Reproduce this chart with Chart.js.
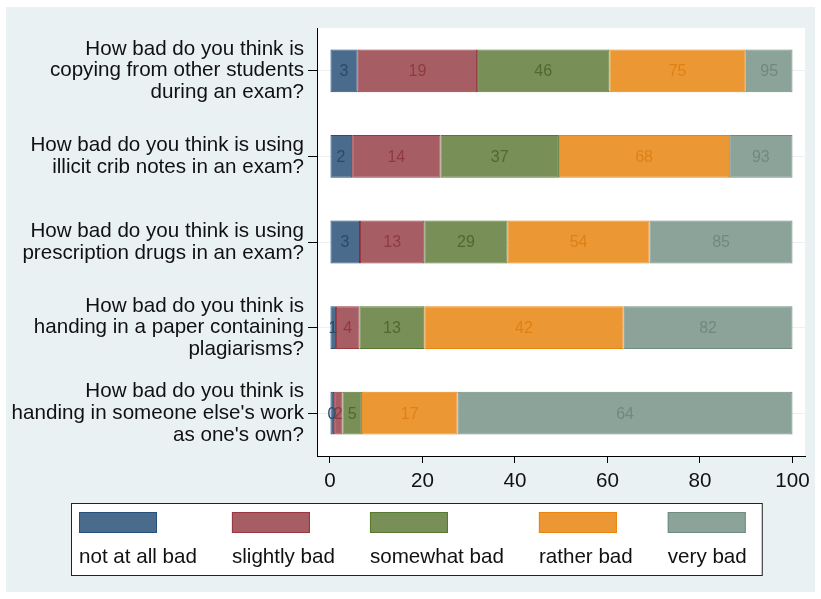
<!DOCTYPE html>
<html>
<head>
<meta charset="utf-8">
<script src="https://cdn.jsdelivr.net/npm/chart.js@4"></script>
<style>
  html, body { margin: 0; padding: 0; background: #fff; }
  #wrap { width: 821px; height: 599px; position: relative; }
</style>
</head>
<body>
<div id="wrap"><canvas id="chart"></canvas></div>
<script>
// Questions (y categories)
const questions = [
  ['How bad do you think is', 'copying from other students', 'during an exam?'],
  ['How bad do you think is using', 'illicit crib notes in an exam?'],
  ['How bad do you think is using', 'prescription drugs in an exam?'],
  ['How bad do you think is', 'handing in a paper containing', 'plagiarisms?'],
  ['How bad do you think is', 'handing in someone else\'s work', 'as one\'s own?']
];

// Share of answers (%) per level
const notAtAllBad = [6.0, 4.8, 6.5, 1.3, 0.9];
const slightlyBad = [25.8, 19.1, 13.9, 5.1, 1.8];
const somewhatBad = [28.6, 25.6, 18.0, 14.0, 4.2];
const ratherBad = [29.5, 36.8, 30.7, 43.1, 20.7];
const veryBad = [10.1, 13.7, 30.9, 36.5, 72.4];

const levelNames = ['not at all bad', 'slightly bad', 'somewhat bad', 'rather bad', 'very bad'];
const xTicks = [0, 20, 40, 60, 80, 100];

const fills = ['#4a6b8c', '#a65d63', '#788f58', '#eb9734', '#8ba398'];
const lines = ['#24507a', '#99363f', '#56792f', '#ea8510', '#6f8c81'];
const textCols = ['#2a4a6b', '#8f3a43', '#4f6a2c', '#de8016', '#6e8a80'];

const FONT = "'Liberation Sans', Arial, Helvetica, sans-serif";
const BG = '#eaf1f3';

// Backgrounds
const bgPlugin = {
  id: 'bg',
  beforeDraw(chart) {
    const { ctx, chartArea: a } = chart;
    ctx.save();
    ctx.fillStyle = '#ffffff';
    ctx.fillRect(0, 0, chart.width, chart.height);
    ctx.fillStyle = BG;
    ctx.fillRect(6, 7, 809, 585);
    ctx.fillStyle = '#ffffff';
    ctx.fillRect(a.left, a.top, a.right - a.left, a.bottom - a.top);
    ctx.restore();
  }
};

// Value labels inside bars: midpoint of cumulative position
const barLabels = {
  id: 'barLabels',
  afterDatasetsDraw(chart) {
    const { ctx } = chart;
    const xs = chart.scales.x;
    ctx.save();
    ctx.font = '16px ' + FONT;
    ctx.textAlign = 'center';
    ctx.textBaseline = 'middle';
    questions.forEach((q, i) => {
      let cum = 0;
      chart.data.datasets.forEach((ds, d) => {
        const v = ds.data[i];
        const mid = cum + v / 2;
        cum += v;
        const el = chart.getDatasetMeta(d).data[i];
        ctx.fillStyle = textCols[d];
        ctx.fillText(String(Math.round(mid)), xs.getPixelForValue(mid), el.y + 1);
      });
    });
    ctx.restore();
  }
};

// Stata style legend: swatches over labels, in a box
const legendBox = {
  id: 'legendBox',
  afterDraw(chart) {
    const { ctx } = chart;
    ctx.save();
    ctx.font = '20.6px ' + FONT;
    const sw = 78, gap = 35;
    let x = 79;
    const starts = [];
    chart.data.datasets.forEach(ds => {
      starts.push(x);
      x += Math.max(sw, ctx.measureText(ds.label).width) + gap;
    });
    const right = x - gap + 15;
    ctx.fillStyle = '#ffffff';
    ctx.fillRect(71, 503, right - 71, 72);
    ctx.strokeStyle = '#222';
    ctx.lineWidth = 1;
    ctx.strokeRect(71.5, 503.5, right - 71, 72);
    chart.data.datasets.forEach((ds, d) => {
      ctx.fillStyle = fills[d];
      ctx.fillRect(starts[d], 512, sw, 21);
      ctx.strokeStyle = lines[d];
      ctx.strokeRect(starts[d] + 0.5, 512.5, sw - 1, 20);
      ctx.fillStyle = '#111';
      ctx.textAlign = 'left';
      ctx.textBaseline = 'middle';
      ctx.fillText(ds.label, starts[d], 557);
    });
    ctx.restore();
  }
};

const series = [notAtAllBad, slightlyBad, somewhatBad, ratherBad, veryBad];

new Chart(document.getElementById('chart').getContext('2d'), {
  type: 'bar',
  data: {
    labels: questions,
    datasets: series.map((s, i) => ({
      label: levelNames[i],
      data: s,
      backgroundColor: fills[i],
      borderColor: lines[i],
      borderWidth: 1,
      borderSkipped: false,
      barPercentage: 0.5,
      categoryPercentage: 1.0
    }))
  },
  options: {
    indexAxis: 'y',
    responsive: true,
    maintainAspectRatio: false,
    animation: false,
    layout: { padding: { top: 28, right: 16, left: 0, bottom: 0 } },
    plugins: {
      legend: { display: false },
      tooltip: { enabled: false },
      title: { display: false }
    },
    scales: {
      x: {
        stacked: true,
        min: -2.8,
        max: 102.7,
        afterBuildTicks: axis => { axis.ticks = xTicks.map(v => ({ value: v })); },
        afterFit: axis => { axis.height = 143; axis.paddingLeft = 0; axis.paddingRight = 0; },
        grid: { drawOnChartArea: false, drawTicks: true, tickLength: 7, tickColor: '#000' },
        border: { display: true, color: '#000', width: 1 },
        ticks: { color: '#111', font: { family: FONT, size: 20.6 }, padding: 6, maxRotation: 0 }
      },
      y: {
        stacked: true,
        afterFit: axis => { axis.width = 317; axis.paddingTop = 0; axis.paddingBottom = 0; },
        grid: { offset: false, color: BG, lineWidth: 1, tickColor: '#000', tickLength: 9 },
        border: { display: true, color: '#000', width: 1 },
        ticks: { color: '#111', font: { family: FONT, size: 20.6, lineHeight: 1.05 }, padding: 4, align: 'center' }
      }
    }
  },
  plugins: [bgPlugin, barLabels, legendBox]
});
</script>
</body>
</html>
